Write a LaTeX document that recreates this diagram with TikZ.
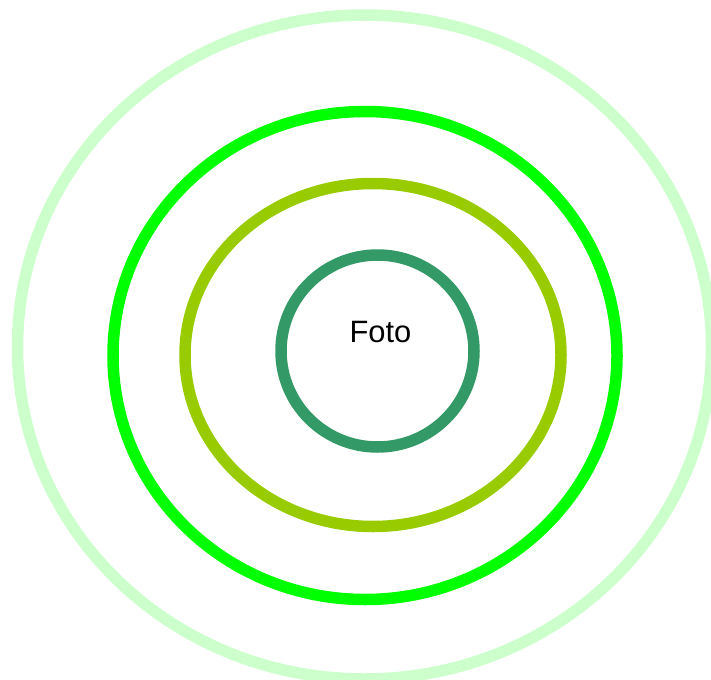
\documentclass[tikz,border=0pt]{standalone}
\usepackage{fontspec}
\setmainfont{Liberation Sans}
\definecolor{ringA}{HTML}{CCFFCC}
\definecolor{ringB}{HTML}{00FF00}
\definecolor{ringC}{HTML}{99CC00}
\definecolor{ringD}{HTML}{339966}
\begin{document}
\begin{tikzpicture}[x=1bp,y=-1bp,
  ring/.style={line width=11.5bp}]
\useasboundingbox (0,0) rectangle (711,680);
\clip (0,0) rectangle (711,680);
\draw[ring,ringA] (364.5,347) ellipse [x radius=347, y radius=332];
\draw[ring,ringB] (365,355.5) ellipse [x radius=252, y radius=244];
\draw[ring,ringC] (373,355) ellipse [x radius=188, y radius=171.5];
\draw[ring,ringD] (377.5,351) ellipse [x radius=96.5, y radius=96];
\node[anchor=base, inner sep=0pt, font=\fontsize{31}{34}\selectfont] (foto) at (380.5,342) {Foto};
\end{tikzpicture}
\end{document}
